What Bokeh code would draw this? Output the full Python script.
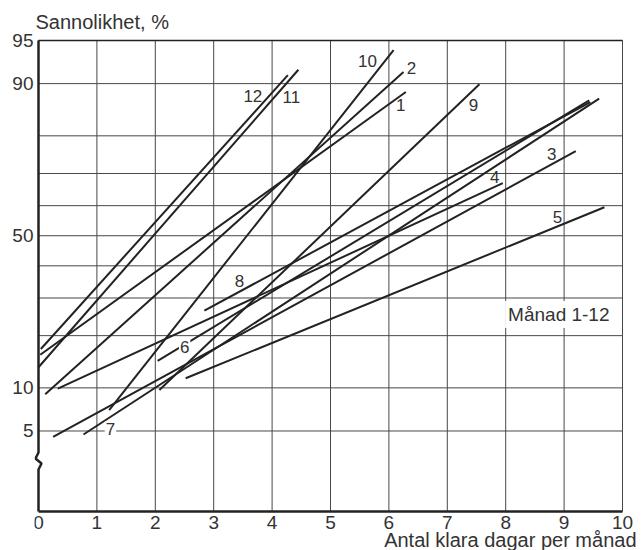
from statistics import NormalDist
from bokeh.plotting import figure
from bokeh.models import Range1d, FixedTicker, Label, ColumnDataSource
from bokeh.embed import file_html
from bokeh.resources import INLINE
from bokeh.core.properties import value

# ---------------- data ----------------
months = ["1", "2", "3", "4", "5", "6", "7", "8", "9", "10", "11", "12"]
x_start = [0.03, 0.115, 0.25, 0.33, 2.52, 2.04, 0.77, 2.84, 2.07, 1.21, 0.0, 0.04]
p_start = [15.8, 9.1, 4.5, 9.9, 11.5, 14.6, 4.7, 26.4, 9.7, 7.1, 13.4, 17.0]
x_end = [6.29, 6.25, 9.2, 7.95, 9.69, 9.43, 9.6, 9.45, 7.55, 6.08, 4.45, 4.27]
p_end = [88.7, 91.6, 76.2, 67.1, 59.5, 87.3, 87.6, 87.0, 89.9, 94.1, 91.9, 91.2]

x_ticks = [0, 1, 2, 3, 4, 5, 6, 7, 8, 9, 10]
x_grid = [1, 2, 3, 4, 5, 6, 7, 8, 9, 10]
y_tick_percent = [5, 10, 50, 90, 95]
y_grid_percent = [5, 10, 20, 30, 40, 50, 60, 70, 80, 90, 95]

# ---------------- layout / style ----------------
nd = NormalDist()


def probit(pct):
    return nd.inv_cdf(pct / 100.0)


FONT = "Liberation Sans"
INK = "#222222"
GRID = "#474747"
TXT = "#333333"
PX_X = 58.4      # pixels per x unit
PX_Y = 118.7     # pixels per probit unit
Y_TOP = probit(95)            # top edge of the chart (95 %)
Y_B = Y_TOP - 471.0 / PX_Y    # bottom axis (below the axis break)
X_MAX = 10

LEFT = 34                     # canvas px left of the frame (y tick labels)
X0_PX = 38                    # canvas px of x = 0
x_lo = -(X0_PX - LEFT) / PX_X
x_hi = x_lo + (642 - LEFT) / PX_X
y_hi = Y_TOP + 40 / PX_Y
y_lo = y_hi - 550 / PX_Y

p = figure(width=642, height=550,
           x_range=Range1d(x_lo, x_hi), y_range=Range1d(y_lo, y_hi),
           output_backend="svg", toolbar_location=None,
           x_axis_location=None,
           min_border=0, min_border_left=LEFT,
           background_fill_color="white", border_fill_color="white")
p.outline_line_color = None
p.xgrid.visible = False
p.ygrid.visible = False

# y axis (probability scale): tick labels only
ya = p.yaxis[0]
y_ticks = [probit(v) for v in y_tick_percent]
ya.ticker = FixedTicker(ticks=y_ticks)
ya.major_label_overrides = {t: str(v) for t, v in zip(y_ticks, y_tick_percent)}
ya.axis_line_color = None
ya.major_tick_line_color = None
ya.minor_tick_line_color = None
ya.major_tick_out = 0
ya.major_tick_in = 0
ya.major_label_standoff = 1
ya.major_label_text_font = FONT
ya.major_label_text_font_size = "19px"
ya.major_label_text_color = TXT

# grid lines (probability grid + day grid)
gy = [probit(v) for v in y_grid_percent]
p.segment(x0=[0] * len(gy), y0=gy, x1=[X_MAX] * len(gy), y1=gy,
          line_color=GRID, line_width=1)
p.segment(x0=x_grid, y0=[Y_B] * len(x_grid), x1=x_grid, y1=[Y_TOP] * len(x_grid),
          line_color=GRID, line_width=1)
p.segment(x0=[0], y0=[Y_TOP], x1=[X_MAX], y1=[Y_TOP], line_color=INK, line_width=1.6)

# axes lines: bottom, and left with the break mark
p.segment(x0=[0], y0=[Y_B], x1=[X_MAX], y1=[Y_B], line_color=INK, line_width=2.5)


def yb(px_above_bottom):
    return Y_B + px_above_bottom / PX_Y


brk_x = [0, 0, -3 / PX_X, 3 / PX_X, 0, 0]
brk_y = [Y_TOP, yb(59), yb(53), yb(48), yb(42), Y_B]
p.line(brk_x, brk_y, line_color=INK, line_width=2.5)

# x tick labels
p.text(x=x_ticks, y=[Y_B - 4 / PX_Y] * len(x_ticks), text=[str(t) for t in x_ticks],
       text_font=value(FONT), text_font_size=value("19px"),
       text_align="center", text_baseline="top", text_color=TXT)

# month lines
src = ColumnDataSource(dict(
    x0=x_start, y0=[probit(v) for v in p_start],
    x1=x_end, y1=[probit(v) for v in p_end]))
p.segment(x0="x0", y0="y0", x1="x1", y1="y1", source=src,
          line_color=INK, line_width=2)

# month labels: anchor (start/end) + pixel offset (dx right, dy down)
label_pos = {
    "1": ("end", -5, 13), "2": ("end", 8, -4), "3": ("end", -24, 3),
    "4": ("end", -8, -6), "5": ("end", -47, 10), "6": ("start", 27, -14),
    "7": ("start", 27, -6), "8": ("start", 35, -30), "9": ("end", -6, 21),
    "10": ("end", -26, 11), "11": ("end", -7, 27), "12": ("end", -35, 21),
}
for i, m in enumerate(months):
    anchor, dx, dy = label_pos[m]
    if anchor == "end":
        ax, az = x_end[i], probit(p_end[i])
    else:
        ax, az = x_start[i], probit(p_start[i])
    kw = {}
    if m in ("6", "7"):
        kw = dict(background_fill_color="white", padding=1)
    p.add_layout(Label(x=ax + dx / PX_X, y=az - dy / PX_Y, text=m,
                       text_align="center", text_baseline="middle",
                       text_font=FONT, text_font_size="17px",
                       text_color=TXT, **kw))

# note inside the chart
p.add_layout(Label(x=(612 - X0_PX) / PX_X, y=yb(511 - 314), text="Månad 1-12",
                   text_align="right", text_baseline="middle",
                   text_font=FONT, text_font_size="19px", text_color=TXT,
                   background_fill_color="white", padding=3))

# axis titles (centre lines measured from the canvas top)
p.add_layout(Label(x=-3 / PX_X, y=y_hi - 21.5 / PX_Y, text="Sannolikhet, %",
                   text_align="left", text_baseline="middle",
                   text_font=FONT, text_font_size="20px", text_color=TXT))
p.add_layout(Label(x=X_MAX + 14 / PX_X, y=y_hi - 539 / PX_Y,
                   text="Antal klara dagar per månad",
                   text_align="right", text_baseline="middle",
                   text_font=FONT, text_font_size="20px", text_color=TXT))

open("out.html", "w").write(file_html(p, INLINE))
